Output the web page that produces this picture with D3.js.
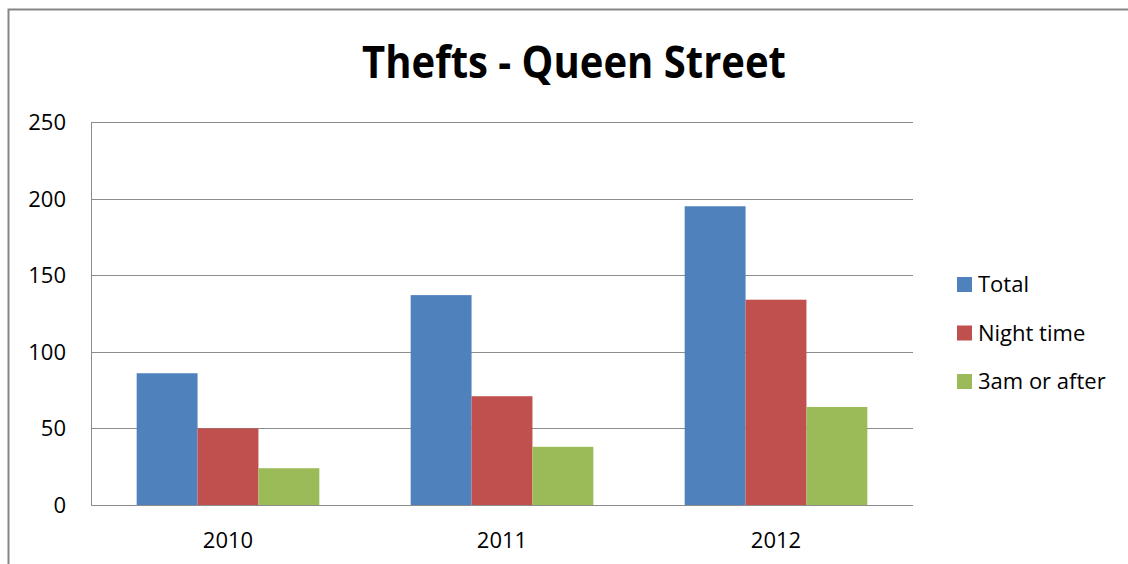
<!DOCTYPE html>
<html><head><meta charset="utf-8">
<script src="https://cdn.jsdelivr.net/npm/d3@7"></script>
<style>body{margin:0;background:#fff}svg{display:block}</style>
</head><body>
<svg id="c" width="1128" height="564"></svg>
<script>
const categories = ["2010", "2011", "2012"];
const seriesNames = ["Total", "Night time", "3am or after"];
const totalValues = [86, 137, 195];
const nightValues = [50, 71, 134];
const lateValues = [24, 38, 64];
const yTicks = [0, 50, 100, 150, 200, 250];
const colors = ["#4F81BD", "#C0504D", "#9BBB59"];

const seriesValues = [totalValues, nightValues, lateValues];
const svg = d3.select("#c");
const font = "'Open Sans', 'Noto Sans', sans-serif";

// outer frame
svg.append("path").attr("d", "M8.5,564 L8.5,9.5 L1128,9.5")
  .attr("fill", "none").attr("stroke", "#868686").attr("stroke-width", 2);

const L = 91, R = 913, T = 122, B = 505;
const xg = d3.scaleBand().domain(categories).range([L, R]);
const xs = d3.scaleBand().domain(seriesNames).range([0, xg.bandwidth() * 3 / 4.5]);
const y = d3.scaleLinear().domain([0, 250]).range([B, T]);

// gridlines
svg.append("g").selectAll("line").data(yTicks).join("line")
  .attr("x1", L).attr("x2", R)
  .attr("y1", d => Math.round(y(d)) + 0.5).attr("y2", d => Math.round(y(d)) + 0.5)
  .attr("stroke", "#8c8c8c").attr("stroke-width", 1);
// left axis line
svg.append("line").attr("x1", L + 0.5).attr("x2", L + 0.5).attr("y1", T).attr("y2", B)
  .attr("stroke", "#8c8c8c");

// y labels
svg.append("g").selectAll("text").data(yTicks).join("text")
  .attr("x", 66).attr("y", d => y(d) + 8)
  .attr("text-anchor", "end").attr("font-family", font).attr("font-size", 22)
  .attr("fill", "#000").text(d => d);

// bars
const groups = svg.append("g").selectAll("g").data(categories).join("g")
  .attr("transform", c => `translate(${xg(c) + xg.bandwidth() * 0.75 / 4.5},0)`);
groups.selectAll("rect").data((c, i) => seriesNames.map((s, j) => ({s, j, v: seriesValues[j][i]})))
  .join("rect")
  .attr("x", d => xs(d.s)).attr("width", xs.bandwidth())
  .attr("y", d => y(d.v)).attr("height", d => B - y(d.v))
  .attr("fill", d => colors[d.j]);

// x labels
svg.append("g").selectAll("text").data(categories).join("text")
  .attr("x", c => xg(c) + xg.bandwidth() / 2).attr("y", 548)
  .attr("text-anchor", "middle").attr("font-family", font).attr("font-size", 22)
  .text(c => c);

// title
svg.append("text").attr("x", 574).attr("y", 78).attr("text-anchor", "middle")
  .attr("font-family", font).attr("font-weight", "bold").attr("font-size", 44)
  .attr("textLength", 424).attr("lengthAdjust", "spacingAndGlyphs")
  .text("Thefts - Queen Street");

// legend
const leg = svg.append("g").selectAll("g").data(seriesNames).join("g")
  .attr("transform", (d, i) => `translate(957,${277 + i * 48.5})`);
leg.append("rect").attr("width", 15).attr("height", 15).attr("fill", (d, i) => colors[i]);
leg.append("text").attr("x", 21).attr("y", 15).attr("font-family", font).attr("font-size", 22)
  .text(d => d);
</script>
</body></html>
